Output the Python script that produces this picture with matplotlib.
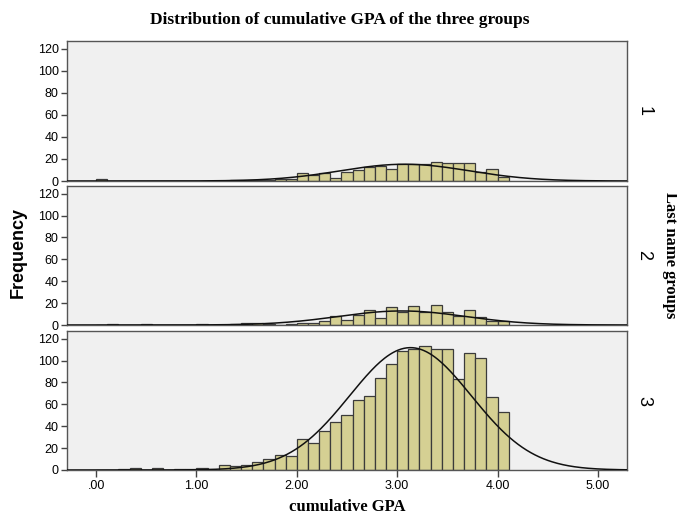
import numpy as np
import matplotlib
matplotlib.use('Agg')
import matplotlib.pyplot as plt

# histogram counts per bin (bins of width 1/9 starting at 0.0)
bin_width = 1 / 9
group_labels = ['1', '2', '3']
counts_g1 = [2, 0, 0, 0, 0, 0, 0, 0, 0, 0, 0, 0, 1, 1, 1, 1, 2, 2,
             7, 5, 7, 3, 8, 10, 13, 14, 11, 15, 15, 15, 17, 16, 16, 16, 8, 11, 4]
counts_g2 = [0, 1, 0, 0, 1, 0, 0, 0, 0, 1, 0, 0, 1, 2, 2, 1, 0, 1,
             2, 2, 4, 8, 5, 9, 14, 6, 16, 12, 17, 12, 18, 12, 8, 14, 7, 4, 4]
counts_g3 = [0, 0, 1, 2, 0, 2, 0, 1, 1, 2, 0, 5, 4, 5, 7, 10, 14, 13,
             28, 25, 36, 44, 50, 64, 68, 84, 97, 109, 111, 113, 111, 111, 83, 107, 102, 67, 53]
xtick_vals = [0, 1, 2, 3, 4, 5]
xtick_labels = ['.00', '1.00', '2.00', '3.00', '4.00', '5.00']
ytick_vals = [0, 20, 40, 60, 80, 100, 120]

bar_color = '#d5d093'
edge_color = '#3b3b3b'
bg_color = '#f0f0f0'

fig = plt.figure(figsize=(6.77, 5.16), dpi=100)
W, H = 677, 516
left_px, right_px = 67, 627
panels_px = [(41, 181), (186, 325), (331, 470)]

xs = np.linspace(-0.3, 5.3, 400)
for i, (cnts, (top, bot)) in enumerate(zip([counts_g1, counts_g2, counts_g3], panels_px)):
    ax = fig.add_axes([left_px / W, 1 - bot / H, (right_px - left_px) / W, (bot - top) / H])
    cnts = np.array(cnts)
    edges = np.arange(len(cnts)) * bin_width
    ax.set_facecolor(bg_color)
    ax.bar(edges, cnts, width=bin_width, align='edge', color=bar_color,
           edgecolor=edge_color, linewidth=0.9, zorder=2)

    # normal curve from the histogram's mean and sd
    mids = edges + bin_width / 2
    n = cnts.sum()
    mu = (mids * cnts).sum() / n
    sd = np.sqrt(((mids - mu) ** 2 * cnts).sum() / (n - 1))
    pdf = np.exp(-0.5 * ((xs - mu) / sd) ** 2) / (sd * np.sqrt(2 * np.pi))
    ax.plot(xs, n * bin_width * pdf, color='#111111', lw=1.1, zorder=3)

    ax.set_xlim(-0.29, 5.29)
    ax.set_ylim(0, 127)
    ax.set_yticks(ytick_vals)
    ax.tick_params(axis='y', direction='out', length=4, width=1, color='#444444',
                   labelsize=9, pad=2)
    for s in ax.spines.values():
        s.set_color('#555555')
        s.set_linewidth(1.0)
    if i < 2:
        ax.set_xticks([])
    else:
        ax.set_xticks(xtick_vals)
        ax.set_xticklabels(xtick_labels)
        ax.tick_params(axis='x', direction='out', length=5, width=1, color='#444444',
                       labelsize=9, pad=2)
    for lab in ax.get_xticklabels() + ax.get_yticklabels():
        lab.set_fontfamily('Liberation Sans')
    ax.text(1.03, 0.5, group_labels[i], transform=ax.transAxes, rotation=-90,
            ha='center', va='center', fontsize=13, family='Liberation Sans')

fig.text(340 / W, 1 - 20 / H, 'Distribution of cumulative GPA of the three groups',
         ha='center', va='center', fontsize=12.5, fontweight='bold', family='Liberation Serif')
fig.text(347 / W, 1 - 507 / H, 'cumulative GPA', ha='center', va='center',
         fontsize=12, fontweight='bold', family='Liberation Serif')
fig.text(18 / W, 1 - 253 / H, 'Frequency', ha='center', va='center', rotation=90,
         fontsize=13, fontweight='bold', family='Liberation Sans')
fig.text(670 / W, 1 - 255 / H, 'Last name groups', ha='center', va='center', rotation=-90,
         fontsize=12, fontweight='bold', family='Liberation Serif')

fig.savefig('out.png', dpi=100, facecolor='white')
